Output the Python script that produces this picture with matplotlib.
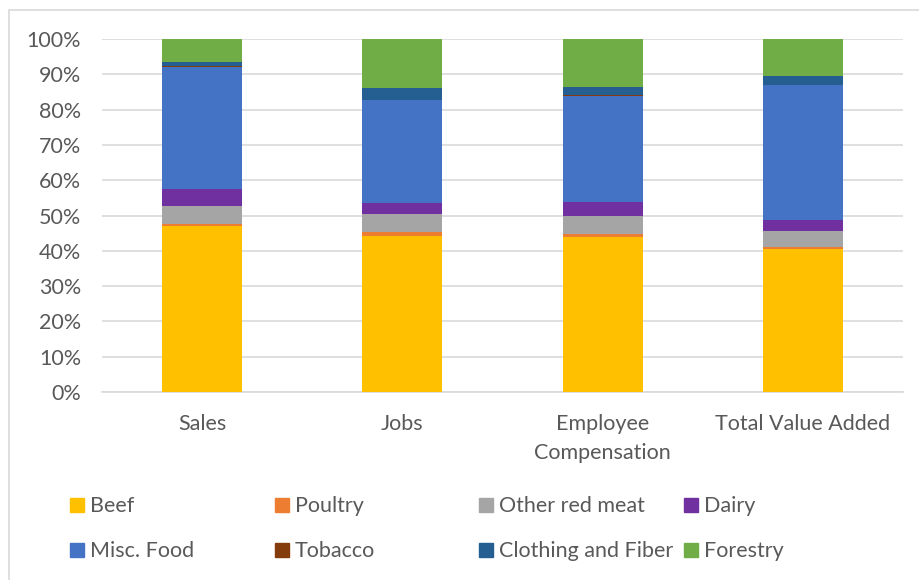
import numpy as np
import matplotlib
matplotlib.use("Agg")
from matplotlib import pyplot as plt
from matplotlib.patches import Rectangle

plt.rcParams['font.family'] = ['Lato', 'DejaVu Sans']

categories = ["Sales", "Jobs", "Employee\nCompensation", "Total Value Added"]
series_names = ["Beef", "Poultry", "Other red meat", "Dairy",
                "Misc. Food", "Tobacco", "Clothing and Fiber", "Forestry"]
colors = ["#FFC000", "#ED7D31", "#A5A5A5", "#7030A0",
          "#4472C4", "#843C0C", "#255E91", "#70AD47"]

# shares per category, in percent
beef = [47.1, 44.1, 44.0, 40.5]
poultry = [0.4, 1.1, 0.8, 0.7]
other_red_meat = [5.3, 5.3, 5.1, 4.5]
dairy = [4.7, 3.1, 4.0, 3.0]
misc_food = [34.7, 29.0, 30.0, 38.2]
tobacco = [0.1, 0.1, 0.1, 0.1]
clothing = [1.3, 3.5, 2.5, 2.4]
forestry = [6.4, 13.8, 13.5, 10.7]

series = [beef, poultry, other_red_meat, dairy, misc_food, tobacco, clothing, forestry]

text_color = "#595959"
grid_color = "#D9D9D9"
fs = 15.5

fig = plt.figure(figsize=(9.2, 5.8), dpi=100)
ax = fig.add_axes([102 / 920, 1 - 392 / 580, 801 / 920, 353 / 580])

x = np.arange(len(categories))
bottom = np.zeros(len(categories))
for name, vals, col in zip(series_names, series, colors):
    vals = np.array(vals)
    ax.bar(x, vals, 0.4, bottom=bottom, color=col, label=name,
           edgecolor="none", zorder=3)
    bottom += vals

ax.set_xlim(-0.5, len(categories) - 0.5)
ax.set_ylim(0, 100)
ax.set_yticks(np.arange(0, 101, 10))
ax.set_yticklabels([f"{v}%" for v in range(0, 101, 10)])
ax.set_xticks(x)
ax.set_xticklabels(categories, linespacing=1.55)
ax.tick_params(axis="y", length=0, pad=15, labelsize=fs, labelcolor=text_color)
ax.tick_params(axis="x", length=0, pad=16, labelsize=fs, labelcolor=text_color)
ax.grid(axis="y", color=grid_color, linewidth=1.2, zorder=0)
for side in ["top", "right", "left"]:
    ax.spines[side].set_visible(False)
ax.spines["bottom"].set_color(grid_color)
ax.spines["bottom"].set_linewidth(1.2)

# legend, two rows of four, filled row-wise
col_x = [70, 275, 479, 684]
row_y = [505, 550]
for i, (name, col) in enumerate(zip(series_names, colors)):
    px = col_x[i % 4]
    py = row_y[i // 4]
    fig.patches.append(Rectangle((px / 920, 1 - (py + 7) / 580), 14 / 920, 14 / 580,
                                 transform=fig.transFigure, color=col))
    fig.text((px + 20) / 920, 1 - (py + 1) / 580, name, fontsize=fs,
             color=text_color, va="center", ha="left")

# chart frame
fig.patches.append(Rectangle((9 / 920, -0.1), 1.2, 1.1 - 10 / 580,
                             transform=fig.transFigure, fill=False,
                             edgecolor=grid_color, linewidth=1.2))

fig.savefig("out.png", dpi=100)
